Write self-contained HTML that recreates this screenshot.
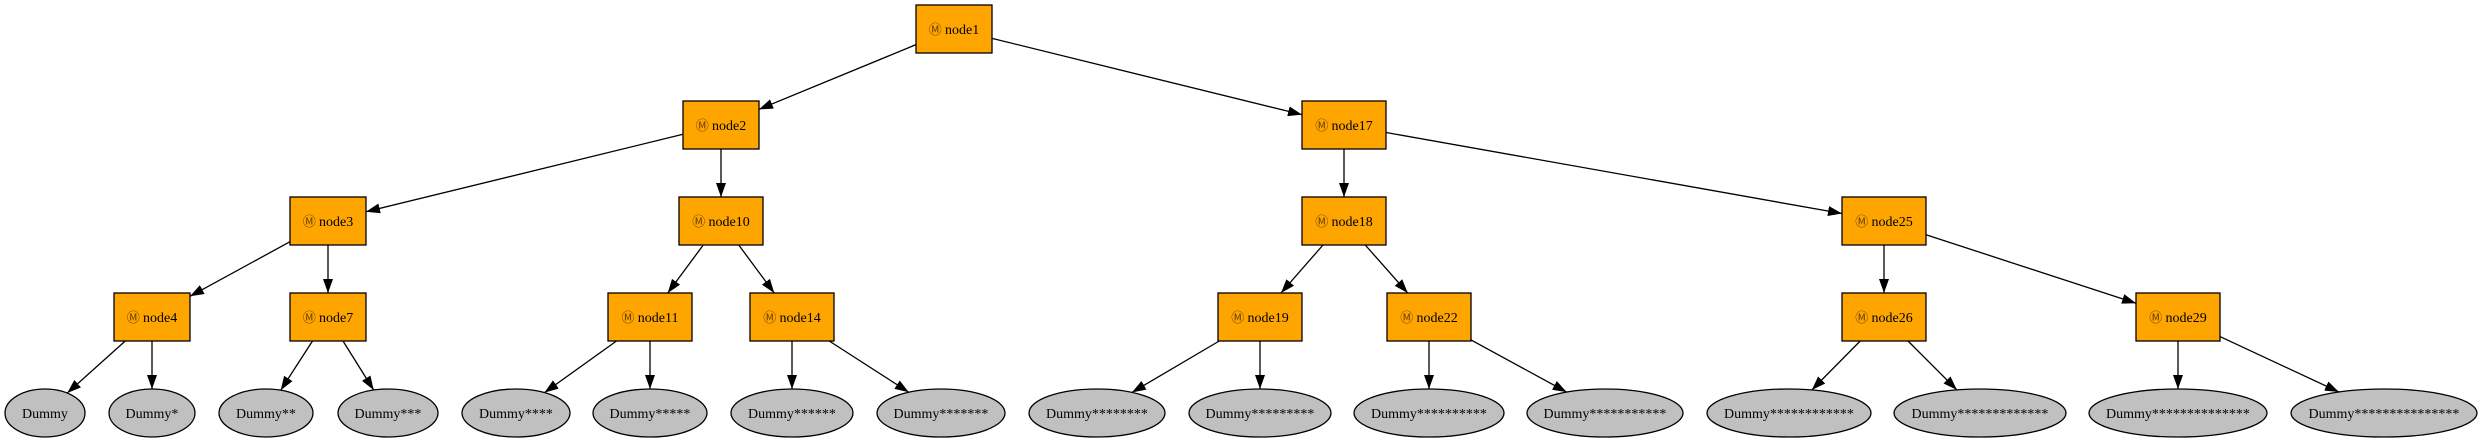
<!DOCTYPE html>
<html><head><meta charset="utf-8">
<style>
html,body{margin:0;padding:0;background:#fff;width:2478px;height:443px;overflow:hidden}
svg{display:block}
text{font-family:"Liberation Serif","DejaVu Serif",serif;font-size:14px;fill:#000}
.m{font-size:13px;fill:#6a4000}
</style></head><body>
<svg id="s" width="2478" height="443" viewBox="0 0 2478 443" xmlns="http://www.w3.org/2000/svg">
<defs><marker id="a" markerWidth="14" markerHeight="10" refX="14" refY="5" orient="auto" markerUnits="userSpaceOnUse"><path d="M0,0 L14,5 L0,10 z" fill="#000"/></marker></defs>
<g id="e"></g><g id="n"></g>
</svg>
<script>
var rows=[29,125,221,317,413];
var N={};
function box(name,cx,r){N[name]={t:'b',x:cx,y:rows[r],w:(name.length>5?84:76)/2,h:24};}
box('node1',954,0);box('node2',721,1);box('node17',1344,1);
box('node3',328,2);box('node10',721,2);box('node18',1344,2);box('node25',1884,2);
box('node4',152,3);box('node7',328,3);box('node11',650,3);box('node14',792,3);
box('node19',1260,3);box('node22',1429,3);box('node26',1884,3);box('node29',2178,3);
var ell=[[45,40],[152,43],[266,47],[388,50],[516,54],[650,57],[792,61],[941,64],[1097,68],[1260,71],[1429,75],[1605,78],[1789,82],[1980,86],[2178,89],[2384,93]];
ell.forEach(function(e,i){N['d'+i]={t:'e',x:e[0],y:413,w:e[1],h:24,label:'Dummy'+'*'.repeat(i)};});
var E=[['node1','node2'],['node1','node17'],['node2','node3'],['node2','node10'],['node17','node18'],['node17','node25'],
['node3','node4'],['node3','node7'],['node10','node11'],['node10','node14'],['node18','node19'],['node18','node22'],['node25','node26'],['node25','node29'],
['node4','d0'],['node4','d1'],['node7','d2'],['node7','d3'],['node11','d4'],['node11','d5'],['node14','d6'],['node14','d7'],
['node19','d8'],['node19','d9'],['node22','d10'],['node22','d11'],['node26','d12'],['node26','d13'],['node29','d14'],['node29','d15']];
function clip(n,dx,dy){
 if(n.t=='b'){var tx=dx?n.w/Math.abs(dx):1e9,ty=dy?n.h/Math.abs(dy):1e9;return Math.min(tx,ty);}
 return 1/Math.sqrt(dx*dx/(n.w*n.w)+dy*dy/(n.h*n.h));}
var ns='http://www.w3.org/2000/svg',ge=document.getElementById('e'),gn=document.getElementById('n');
E.forEach(function(p){var a=N[p[0]],b=N[p[1]];var dx=b.x-a.x,dy=b.y-a.y;
 var t1=clip(a,dx,dy),t2=clip(b,-dx,-dy);
 var l=document.createElementNS(ns,'line');
 l.setAttribute('x1',a.x+dx*t1);l.setAttribute('y1',a.y+dy*t1);
 l.setAttribute('x2',b.x-dx*t2);l.setAttribute('y2',b.y-dy*t2);
 l.setAttribute('stroke','#000');l.setAttribute('stroke-width','1.3');l.setAttribute('marker-end','url(#a)');ge.appendChild(l);});
Object.keys(N).forEach(function(k){var n=N[k],s;
 if(n.t=='b'){s=document.createElementNS(ns,'rect');s.setAttribute('x',n.x-n.w);s.setAttribute('y',n.y-n.h);s.setAttribute('width',2*n.w);s.setAttribute('height',2*n.h);s.setAttribute('fill','#ffa500');}
 else{s=document.createElementNS(ns,'ellipse');s.setAttribute('cx',n.x);s.setAttribute('cy',n.y);s.setAttribute('rx',n.w);s.setAttribute('ry',n.h);s.setAttribute('fill','#c0c0c0');}
 s.setAttribute('stroke','#000');s.setAttribute('stroke-width','1.3');gn.appendChild(s);
 var t=document.createElementNS(ns,'text');t.setAttribute('x',n.x);t.setAttribute('y',n.y+5);t.setAttribute('text-anchor','middle');
 if(n.t=='b'){var m=document.createElementNS(ns,'tspan');m.setAttribute('class','m');m.textContent='Ⓜ ';t.appendChild(m);t.appendChild(document.createTextNode(k));}
 else t.textContent=n.label;
 gn.appendChild(t);});
</script>
</body></html>
